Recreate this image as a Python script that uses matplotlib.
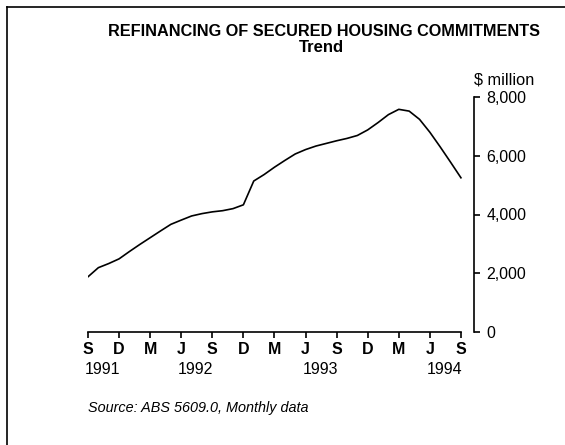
import matplotlib
matplotlib.use("Agg")
import matplotlib.pyplot as plt
from matplotlib.lines import Line2D
from matplotlib.ticker import FuncFormatter

plt.rcParams['font.family'] = ['Liberation Sans', 'DejaVu Sans']

# Monthly trend series, Sep 1991 .. Sep 1994 ($ million)
values = [1880, 2190, 2330, 2490, 2740, 2980, 3210, 3440, 3665, 3810,
          3950, 4030, 4090, 4130, 4200, 4330, 5140, 5360, 5610, 5840,
          6060, 6210, 6330, 6420, 6510, 6590, 6690, 6880, 7130, 7400,
          7580, 7520, 7240, 6800, 6300, 5780, 5250]
month_letters = ['S', 'D', 'M', 'J', 'S', 'D', 'M', 'J', 'S', 'D', 'M', 'J', 'S']
year_labels = ['1991', '1992', '1993', '1994']
year_positions = [0, 9, 21, 33]
y_ticks = [0, 2000, 4000, 6000, 8000]

W, H, DPI = 565, 445, 100
fig = plt.figure(figsize=(W / DPI, H / DPI), dpi=DPI)
fig.patch.set_facecolor('white')

ax = fig.add_axes([88 / W, 1 - 332 / H, (474 - 88) / W, (332 - 97) / H])
months = list(range(len(values)))
ax.plot(months, values, color='black', lw=1.2, solid_joinstyle='round')

ax.set_xlim(0, 37.26)
ax.set_ylim(0, 8000)

for s in ['top', 'left']:
    ax.spines[s].set_visible(False)
ax.spines['bottom'].set_bounds(0, 36)
ax.spines['bottom'].set_linewidth(1.2)
ax.spines['right'].set_linewidth(1.2)

ax.set_xticks(range(0, 37, 3))
ax.set_xticklabels(month_letters, fontsize=11.5, fontweight='bold')
ax.tick_params(axis='x', direction='out', length=4, width=1.2, pad=3)

ax.yaxis.tick_right()
ax.set_yticks(y_ticks)
ax.yaxis.set_major_formatter(FuncFormatter(lambda v, p: f'{int(v):,}'))
ax.tick_params(axis='y', direction='out', length=4, width=1.2, pad=5,
               labelsize=11.5)

for lab, pos in zip(year_labels, year_positions):
    ax.annotate(lab, xy=(pos, 0), xycoords=('data', 'axes fraction'),
                xytext=(-3, -38), textcoords='offset pixels',
                ha='left', va='center', fontsize=11.5)

ax.text(1.0, 1.04, '$ million', transform=ax.transAxes, ha='left',
        va='bottom', fontsize=11.8)

fig.text(324 / W, 1 - 32 / H, 'REFINANCING OF SECURED HOUSING COMMITMENTS',
         ha='center', va='center', fontsize=11.7, fontweight='bold')
fig.text(321 / W, 1 - 48 / H, 'Trend', ha='center', va='center',
         fontsize=12, fontweight='bold')
fig.text(88 / W, 1 - 408 / H, 'Source: ABS 5609.0, Monthly data',
         ha='left', va='center', fontsize=10.4, style='italic')

# Frame along the top and left edges
fig.add_artist(Line2D([7 / W, 1.0], [1 - 7 / H, 1 - 7 / H],
                      transform=fig.transFigure, color='black', lw=1.2))
fig.add_artist(Line2D([7 / W, 7 / W], [0, 1 - 7 / H],
                      transform=fig.transFigure, color='black', lw=1.2))

fig.savefig('out.png', dpi=DPI)
